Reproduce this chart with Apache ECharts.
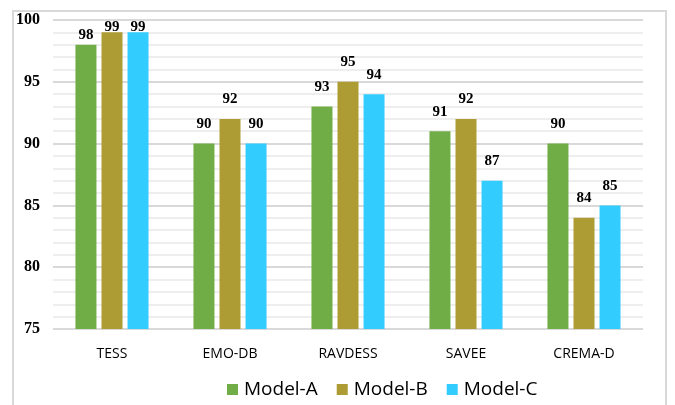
<!DOCTYPE html>
<html><head><meta charset="utf-8">
<script src="https://cdn.jsdelivr.net/npm/echarts@6/dist/echarts.min.js"></script>
<style>html,body{margin:0;padding:0;background:#fff}#c{width:675px;height:405px;position:relative}
#frame{position:absolute;left:12px;top:10px;width:655px;height:420px;border:2px solid #d9d9d9;box-sizing:border-box;pointer-events:none}</style>
</head><body><div id="c"></div><div id="frame"></div>
<script>
const categories = ['TESS', 'EMO-DB', 'RAVDESS', 'SAVEE', 'CREMA-D'];
const modelA = [98, 90, 93, 91, 90];
const modelB = [99, 92, 95, 92, 84];
const modelC = [99, 90, 94, 87, 85];
const seriesNames = ['Model-A', 'Model-B', 'Model-C'];
const colors = ['#70AD47', '#AD9B33', '#33CCFF'];

const chart = echarts.init(document.getElementById('c'), null, {renderer: 'canvas'});
const label = {show: true, position: 'top', distance: 12, fontFamily: 'Liberation Serif', fontWeight: 'bold', fontSize: 15, color: '#000'};
// labels near the top of the plot are pulled down so they stay inside it
function withLabels(values) {
  return values.map(v => {
    if (v >= 99) return {value: v, label: {distance: -2}};
    if (v >= 98) return {value: v, label: {distance: 2}};
    return v;
  });
}
chart.setOption({
  animation: false,
  color: colors,
  grid: {left: 53, right: 32, top: 20, bottom: 76, containLabel: false},
  legend: {
    bottom: 1, left: 222, itemWidth: 11, itemHeight: 11, itemGap: 19,
    icon: 'rect',
    textStyle: {fontFamily: 'Open Sans', fontSize: 19, color: '#000', padding: [0, 0, 0, 1]},
    data: seriesNames
  },
  xAxis: {
    type: 'category', data: categories,
    axisLine: {show: false}, axisTick: {show: false},
    axisLabel: {fontFamily: 'Open Sans', fontSize: 14, color: '#000', margin: 18}
  },
  yAxis: {
    type: 'value', min: 75, max: 100, interval: 5,
    axisLine: {show: false}, axisTick: {show: false},
    axisLabel: {fontFamily: 'Liberation Serif', fontWeight: 'bold', fontSize: 16, color: '#000', margin: 13},
    splitLine: {lineStyle: {color: '#d9d9d9', width: 2}},
    minorTick: {show: false, splitNumber: 5},
    minorSplitLine: {show: true, lineStyle: {color: '#eeeeee', width: 2}}
  },
  series: [
    {name: seriesNames[0], type: 'bar', data: withLabels(modelA), barWidth: 21, barGap: '24%', label},
    {name: seriesNames[1], type: 'bar', data: withLabels(modelB), barWidth: 21, barGap: '24%', label},
    {name: seriesNames[2], type: 'bar', data: withLabels(modelC), barWidth: 21, barGap: '24%', label}
  ]
});
</script></body></html>
